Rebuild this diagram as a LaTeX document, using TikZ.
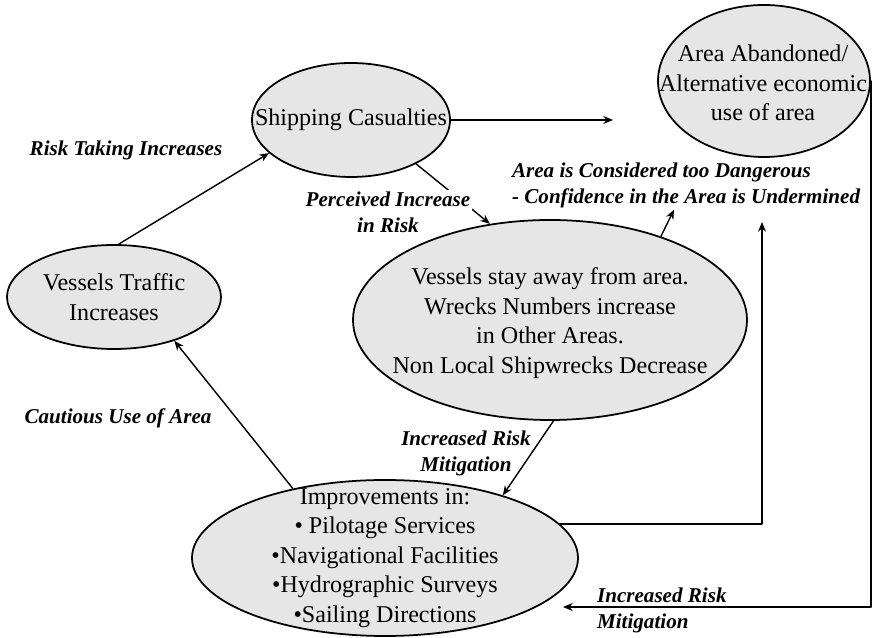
\documentclass[tikz,border=0pt]{standalone}
\usepackage{fontspec}
\setmainfont{Liberation Serif}
\usetikzlibrary{arrows.meta,shapes.geometric,backgrounds}
\definecolor{bubblegray}{HTML}{E6E6E6}
\tikzset{
  every picture/.style={line join=round, line cap=round, >={Stealth[length=5.5pt,width=4.5pt]}},
  bubble/.style={ellipse, draw, line width=1pt, fill=bubblegray, inner sep=0pt},
  bubbletext/.style={align=center, inner sep=0pt, font=\fontsize{13.7}{16.8}\selectfont},
  flow/.style={->, line width=0.8pt},
  why/.style={align=center, inner sep=1pt, font=\fontsize{12}{14.8}\selectfont\bfseries\itshape},
}

\begin{document}
\begin{tikzpicture}
\useasboundingbox (0,0) rectangle (17.460,12.760);
\node[bubble,minimum width=3.960cm,minimum height=2.280cm] (sc) at (7.020,10.360) {};
\node[bubbletext] (sc-t) at (sc) {Shipping Casualties};
\node[bubble,minimum width=4.240cm,minimum height=3.040cm] (aa) at (15.280,11.140) {};
\node[bubbletext] (aa-t) at (15.260,11.100) {Area Abandoned/\\Alternative economic\\use of area};
\node[bubble,minimum width=4.280cm,minimum height=2.080cm] (vt) at (2.280,6.820) {};
\node[bubbletext] (vt-t) at (vt) {Vessels Traffic\\Increases};
\node[bubble,minimum width=7.880cm,minimum height=4.000cm] (vsa) at (11.000,6.360) {};
\node[bubbletext] (vsa-t) at (11.000,6.300) {Vessels stay away from area.\\Wrecks Numbers increase\\in Other Areas.\\Non Local Shipwrecks Decrease};
\node[bubble,minimum width=7.720cm,minimum height=3.120cm] (imp) at (7.700,1.600) {};
\node[bubbletext] (imp-t) at (imp) {Improvements in:\\\textbullet{} Pilotage Services\\\textbullet Navigational Facilities\\\textbullet Hydrographic Surveys\\\textbullet Sailing Directions};
\node[why] (rt) at (2.520,9.760) {Risk Taking Increases};
\node[why,align=left,anchor=west] (dang) at (10.200,9.060) {Area is Considered too Dangerous\\- Confidence in the Area is Undermined};
\node[why] (cu) at (2.360,4.400) {Cautious Use of Area};
\node[why] (irm1) at (9.320,3.700) {Increased Risk\\Mitigation};
\node[why,align=left,anchor=west] (irm2) at (11.900,0.560) {Increased Risk\\Mitigation};
\coordinate (ahead) at (12.260,10.360);
\coordinate (up) at (15.240,8.320);
\coordinate (mit) at (11.260,0.620);
\draw[flow] (vt.85) -- (sc.202);
\draw[flow] (sc.east) -- (ahead);
\draw[flow] (vsa.37.5) -- (dang);
\draw[flow] (vsa.-88) -- (imp.28);
\draw[flow] (imp.143) -- (vt.-36);
\draw[flow] (imp.11.5) -| (up);
\draw[flow] (aa.east) |- (mit);
\begin{pgfonlayer}{background}
\draw[flow] (sc.-34) -- (vsa.122);
\node[why,fill=white] (pir) at (7.760,8.520) {Perceived Increase\\in Risk};
\end{pgfonlayer}
\end{tikzpicture}
\end{document}
